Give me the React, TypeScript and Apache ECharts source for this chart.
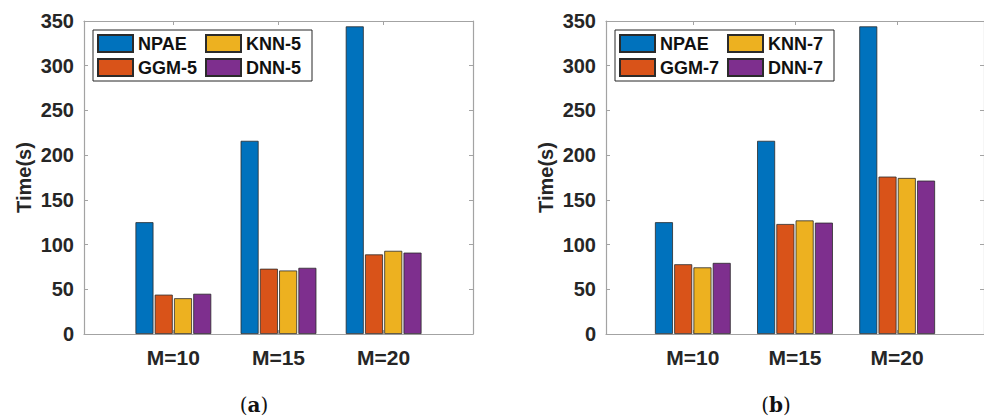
import React, { useEffect, useRef } from "react";
import * as echarts from "echarts";

// Group labels on the x axis and their positions on the value axis
const categories = ["M=10", "M=15", "M=20"];
const positions = [1, 2, 3];
const yTicks = [0, 50, 100, 150, 200, 250, 300, 350];

// (a) neighbourhood size 5
const npaeA = [125, 216, 344];
const ggm5 = [44, 73, 89];
const knn5 = [40, 71, 93];
const dnn5 = [45, 74, 91];

// (b) neighbourhood size 7
const npaeB = [125, 216, 344];
const ggm7 = [78, 123, 176];
const knn7 = [74.5, 127, 174.5];
const dnn7 = [79.5, 124.5, 171.5];

const namesA = ["NPAE", "GGM-5", "KNN-5", "DNN-5"];
const namesB = ["NPAE", "GGM-7", "KNN-7", "DNN-7"];
const colors = ["#0072BD", "#D95319", "#EDB120", "#7E2F8E"];

const FONT = "'Liberation Sans', Arial, Helvetica, sans-serif";
const AXIS_GRAY = "#a3a3a3";
const LABEL = "#262626";

const toPairs = (vals: number[]) => vals.map((v, i) => [positions[i], v]);

function xAxes(gridIndex: number) {
  const common = {
    gridIndex,
    type: "value" as const,
    min: 0.15,
    max: 3.85,
    splitLine: { show: false },
    axisLine: { show: true, onZero: false, lineStyle: { color: AXIS_GRAY, width: 1.2 } },
    axisTick: { show: true, inside: true, length: 4, customValues: positions, lineStyle: { color: AXIS_GRAY } },
  };
  return [
    {
      ...common,
      position: "bottom" as const,
      axisLabel: {
        show: true,
        customValues: positions,
        formatter: (v: number) => categories[Math.round(v) - 1] ?? "",
        margin: 13,
        fontSize: 21,
        fontWeight: "bold",
        fontFamily: FONT,
        color: LABEL,
      },
    },
    { ...common, position: "top" as const, axisLabel: { show: false } },
  ];
}

function yAxes(gridIndex: number) {
  const common = {
    gridIndex,
    type: "value" as const,
    min: yTicks[0],
    max: yTicks[yTicks.length - 1],
    interval: 50,
    splitLine: { show: false },
    axisLine: { show: true, lineStyle: { color: AXIS_GRAY, width: 1.2 } },
    axisTick: { show: true, inside: true, length: 4, lineStyle: { color: AXIS_GRAY } },
  };
  return [
    {
      ...common,
      position: "left" as const,
      name: "Time(s)",
      nameLocation: "middle" as const,
      nameGap: 50,
      nameTextStyle: { fontSize: 20, fontWeight: "bold", fontFamily: FONT, color: LABEL },
      axisLabel: { show: true, margin: 10, fontSize: 20, fontWeight: "bold", fontFamily: FONT, color: LABEL },
    },
    { ...common, position: "right" as const, axisLabel: { show: false } },
  ];
}

function barSeries(names: string[], data: number[][], axisBase: number) {
  return names.map((name, i) => ({
    type: "bar" as const,
    name,
    xAxisIndex: axisBase,
    yAxisIndex: axisBase,
    data: toPairs(data[i]),
    barWidth: 18,
    barGap: "7%",
    itemStyle: { color: colors[i], borderColor: "#2b2b2b", borderWidth: 0.8 },
  }));
}

function legend(left: number, names: string[]) {
  // two columns, filled column-first: row 1 = names[0], names[2]
  return {
    left,
    top: 30,
    orient: "horizontal" as const,
    width: 215,
    data: [names[0], names[2], names[1], names[3]],
    icon: "rect",
    itemWidth: 35,
    itemHeight: 17,
    itemGap: 5,
    padding: [4, 4, 4, 4],
    borderColor: "#262626",
    borderWidth: 1,
    backgroundColor: "#ffffff",
    selectedMode: false,
    textStyle: { fontSize: 18, fontWeight: "bold", fontFamily: FONT, color: "#111", width: 62, lineHeight: 19 },
  };
}

function panelLabel(x: number, letter: string) {
  return {
    type: "text" as const,
    x,
    y: 405,
    style: {
      text: `{p|(}{b|${letter}}{p|)}`,
      align: "center",
      verticalAlign: "middle",
      rich: {
        p: { fontSize: 20, fontFamily: "'DejaVu Serif', serif", fill: "#111" },
        b: { fontSize: 20, fontWeight: "bold", fontFamily: "'DejaVu Serif', serif", fill: "#111" },
      },
    },
  };
}

export default function App() {
  const ref = useRef<HTMLDivElement>(null);

  useEffect(() => {
    if (!ref.current) return;
    const chart = echarts.init(ref.current, null, { renderer: "svg" });
    chart.setOption({
      animation: false,
      backgroundColor: "#ffffff",
      grid: [
        { left: 84, top: 21, width: 389, height: 313 },
        { left: 606, top: 21, width: 389, height: 313 },
      ],
      xAxis: [...xAxes(0), ...xAxes(1)],
      yAxis: [...yAxes(0), ...yAxes(1)],
      legend: [legend(93, namesA), legend(615, namesB)],
      series: [
        ...barSeries(namesA, [npaeA, ggm5, knn5, dnn5], 0),
        ...barSeries(namesB, [npaeB, ggm7, knn7, dnn7], 2),
      ],
      graphic: [panelLabel(254, "a"), panelLabel(776, "b")],
    });
    return () => chart.dispose();
  }, []);

  return (
    <div
      ref={ref}
      style={{ position: "fixed", left: 0, top: 0, width: 984, height: 417, background: "#fff" }}
    />
  );
}
